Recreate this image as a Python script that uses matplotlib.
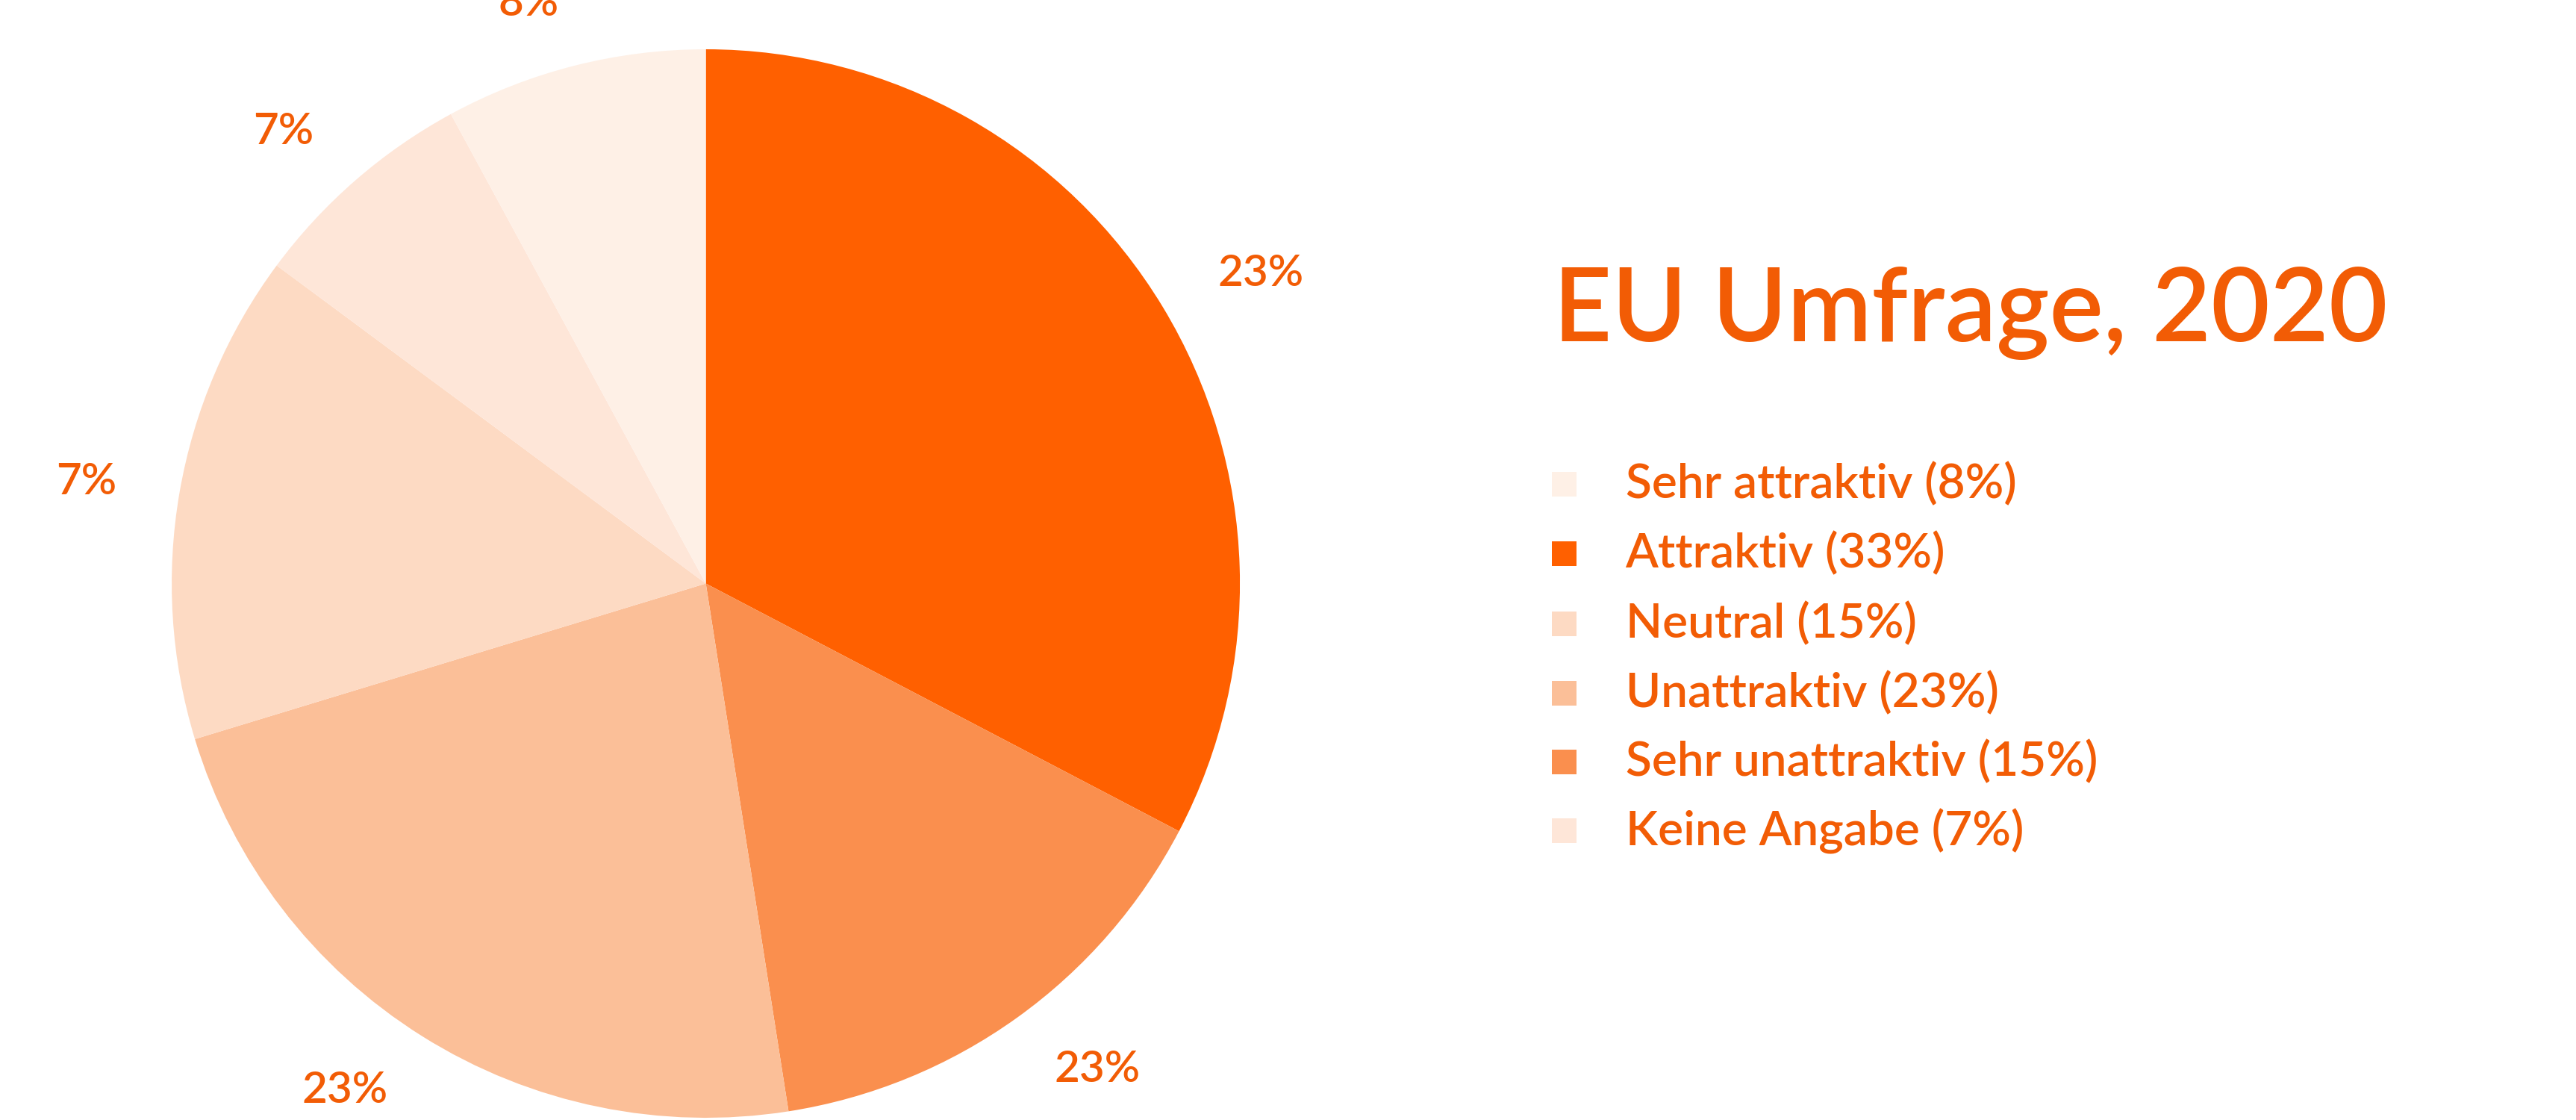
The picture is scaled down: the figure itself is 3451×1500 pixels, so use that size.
import matplotlib
matplotlib.use('Agg')
import matplotlib.pyplot as plt
from matplotlib.patches import Rectangle

plt.rcParams['font.family'] = ['Lato', 'DejaVu Sans']

# data, clockwise from 12 o'clock
slice_names = ['Attraktiv', 'Sehr unattraktiv', 'Unattraktiv', 'Neutral', 'Keine Angabe', 'Sehr attraktiv']
slice_values = [33, 15, 23, 15, 7, 8]
slice_labels = ['23%', '23%', '23%', '7%', '7%', '8%']
slice_colors = ['#FF6000', '#FA8F4E', '#FBBF98', '#FDDAC3', '#FEE6D8', '#FEF0E6']

legend_names = ['Sehr attraktiv (8%)', 'Attraktiv (33%)', 'Neutral (15%)',
                'Unattraktiv (23%)', 'Sehr unattraktiv (15%)', 'Keine Angabe (7%)']
legend_colors = ['#FEF0E6', '#FF6000', '#FDDAC3', '#FBBF98', '#FA8F4E', '#FEE6D8']

TEXT = '#F25C05'
W, H = 34.51, 15.0
fig = plt.figure(figsize=(W, H), dpi=100)

cx, cy, r = 0.274, 0.479, 0.477
rw = r * H / W
ax = fig.add_axes([cx - rw, cy - r, 2 * rw, 2 * r])
ax.pie(slice_values, labels=slice_labels, colors=slice_colors, startangle=90,
       counterclock=False, labeldistance=1.12,
       textprops={'color': TEXT, 'fontsize': 42, 'fontweight': 'semibold'})
ax.set_aspect('equal')
ax.set_xlim(-1, 1)
ax.set_ylim(-1, 1)
for t in ax.texts:
    t.set_clip_on(False)

fig.text(0.603, 0.72, 'EU Umfrage, 2020', color=TEXT, fontsize=98,
         fontweight='semibold', va='center', ha='left')

ys = [295, 337, 380, 422, 464, 506]
for name, col, yp in zip(legend_names, legend_colors, ys):
    y = 1 - yp / 682
    s = 33
    fig.add_artist(Rectangle((0.6025, y - s / 2 / 1500), s / 3451, s / 1500,
                             transform=fig.transFigure, color=col, lw=0))
    fig.text(0.631, y, name, color=TEXT, fontsize=46, fontweight='semibold',
             va='center', ha='left')

fig.savefig('out.png', dpi=100)
